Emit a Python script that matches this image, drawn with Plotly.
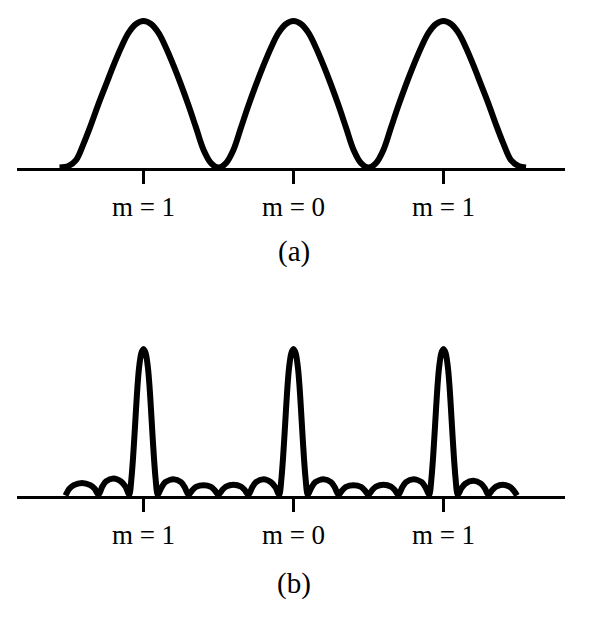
import plotly.graph_objects as go

# ---- data (x in units of fringe order, y relative to peak height) ----
tick_positions = [-1, 0, 1]
tick_labels = ["m = 1", "m = 0", "m = 1"]
panel_captions = ["(a)", "(b)"]

# (a) two-slit pattern
a_x = [-1.56, -1.50, -1.45, -1.40, -1.35, -1.30, -1.25, -1.20, -1.15, -1.10, -1.05, -1.00,
       -0.95, -0.90, -0.85, -0.80, -0.75, -0.70, -0.65, -0.60, -0.55, -0.50,
       -0.45, -0.40, -0.35, -0.30, -0.25, -0.20, -0.15, -0.10, -0.05, 0.00,
       0.05, 0.10, 0.15, 0.20, 0.25, 0.30, 0.35, 0.40, 0.45, 0.50,
       0.55, 0.60, 0.65, 0.70, 0.75, 0.80, 0.85, 0.90, 0.95, 1.00,
       1.05, 1.10, 1.15, 1.20, 1.25, 1.30, 1.35, 1.40, 1.45, 1.50, 1.55]
a_y = [0.01, 0.02, 0.06, 0.17, 0.30, 0.44, 0.57, 0.70, 0.82, 0.92, 0.98, 1.00,
       0.98, 0.92, 0.82, 0.70, 0.57, 0.43, 0.28, 0.13, 0.04, 0.01,
       0.04, 0.13, 0.28, 0.43, 0.57, 0.70, 0.82, 0.92, 0.98, 1.00,
       0.98, 0.92, 0.82, 0.70, 0.57, 0.43, 0.28, 0.13, 0.04, 0.01,
       0.04, 0.13, 0.28, 0.43, 0.57, 0.70, 0.82, 0.92, 0.98, 1.00,
       0.98, 0.92, 0.82, 0.70, 0.57, 0.44, 0.30, 0.17, 0.06, 0.02, 0.01]

# (b) multi-slit pattern
b_x = [-1.52, -1.495, -1.465, -1.41, -1.355, -1.325, -1.30,
       -1.275, -1.25, -1.20, -1.15, -1.12, -1.095,
       -1.08, -1.07, -1.06, -1.05, -1.04, -1.03, -1.015, -1.00,
       -0.985, -0.97, -0.96, -0.95, -0.94, -0.93, -0.92, -0.905,
       -0.88, -0.855, -0.80, -0.75, -0.725, -0.70,
       -0.675, -0.65, -0.60, -0.55, -0.525, -0.50,
       -0.475, -0.45, -0.40, -0.35, -0.325, -0.30,
       -0.275, -0.25, -0.20, -0.15, -0.12, -0.095,
       -0.08, -0.07, -0.06, -0.05, -0.04, -0.03, -0.015, 0.00,
       0.015, 0.03, 0.04, 0.05, 0.06, 0.07, 0.08, 0.095,
       0.12, 0.145, 0.20, 0.25, 0.275, 0.30,
       0.325, 0.35, 0.40, 0.45, 0.475, 0.50,
       0.525, 0.55, 0.60, 0.65, 0.675, 0.70,
       0.725, 0.75, 0.80, 0.855, 0.88, 0.905,
       0.92, 0.93, 0.94, 0.95, 0.96, 0.97, 0.985, 1.00,
       1.015, 1.03, 1.04, 1.05, 1.06, 1.07, 1.08, 1.095,
       1.12, 1.145, 1.20, 1.25, 1.275, 1.30,
       1.325, 1.35, 1.395, 1.44, 1.465, 1.49]
b_y = [0.01, 0.055, 0.08, 0.095, 0.08, 0.055, 0.015,
       0.07, 0.105, 0.125, 0.105, 0.07, 0.015,
       0.13, 0.26, 0.42, 0.59, 0.75, 0.87, 0.97, 1.00,
       0.97, 0.87, 0.75, 0.59, 0.42, 0.26, 0.13, 0.015,
       0.065, 0.10, 0.12, 0.10, 0.065, 0.015,
       0.045, 0.068, 0.08, 0.068, 0.045, 0.015,
       0.047, 0.07, 0.083, 0.07, 0.047, 0.015,
       0.065, 0.10, 0.12, 0.10, 0.065, 0.015,
       0.13, 0.26, 0.42, 0.59, 0.75, 0.87, 0.97, 1.00,
       0.97, 0.87, 0.75, 0.59, 0.42, 0.26, 0.13, 0.015,
       0.065, 0.10, 0.12, 0.10, 0.065, 0.015,
       0.045, 0.068, 0.08, 0.068, 0.045, 0.015,
       0.047, 0.07, 0.083, 0.07, 0.047, 0.015,
       0.065, 0.10, 0.12, 0.10, 0.065, 0.015,
       0.13, 0.26, 0.42, 0.59, 0.75, 0.87, 0.97, 1.00,
       0.97, 0.87, 0.75, 0.59, 0.42, 0.26, 0.13, 0.015,
       0.06, 0.09, 0.11, 0.09, 0.06, 0.015,
       0.047, 0.07, 0.083, 0.07, 0.047, 0.01]

# ---- layout geometry (pixels in a 600 x 623 page) ----
W, H = 600, 623
X_LEFT_PX, X_RIGHT_PX = 17, 565
X0_PX, PX_PER_UNIT = 293.5, 150.0
Y_PX_PER_UNIT = 148.0
x_range = [(X_LEFT_PX - X0_PX) / PX_PER_UNIT, (X_RIGHT_PX - X0_PX) / PX_PER_UNIT]
x_domain = [X_LEFT_PX / W, X_RIGHT_PX / W]

panels = [  # (top px, bottom px, baseline px, caption centre px)
    (5, 185, 169, 251),
    (330, 515, 497, 583),
]

SERIF = "Liberation Serif, Times New Roman, serif"
fig = go.Figure()

fig.add_trace(go.Scatter(x=a_x, y=a_y, mode="lines", xaxis="x", yaxis="y",
                         line=dict(color="black", width=6, shape="spline", smoothing=1.0),
                         hoverinfo="skip"))
fig.add_trace(go.Scatter(x=b_x, y=b_y, mode="lines", xaxis="x2", yaxis="y2",
                         line=dict(color="black", width=6, shape="spline", smoothing=0.8),
                         hoverinfo="skip"))

layout = dict(width=W, height=H, autosize=False, showlegend=False,
              margin=dict(l=0, r=0, t=0, b=0),
              paper_bgcolor="white", plot_bgcolor="white")

annotations = []
for i, (top, bot, base, cap) in enumerate(panels):
    n = "" if i == 0 else str(i + 1)
    ov = str(i + 3)
    y_top = (base - top) / Y_PX_PER_UNIT
    y_bot = (base - bot) / Y_PX_PER_UNIT
    pos = 1 - base / H
    layout["yaxis" + n] = dict(domain=[1 - bot / H, 1 - top / H], range=[y_bot, y_top],
                               visible=False, fixedrange=True)
    layout["xaxis" + n] = dict(domain=x_domain, range=x_range, anchor="free", position=pos,
                               showline=True, linecolor="black", linewidth=2.5,
                               ticks="outside", ticklen=13, tickwidth=2.5, tickcolor="black",
                               tickvals=tick_positions, ticktext=tick_labels,
                               tickfont=dict(family=SERIF, size=27, color="black"),
                               showgrid=False, zeroline=False, fixedrange=True)
    layout["xaxis" + ov] = dict(domain=x_domain, range=x_range, anchor="free", position=pos,
                                overlaying="x" + n, showline=False,
                                ticks="inside", ticklen=11, tickwidth=2.5, tickcolor="black",
                                tickvals=tick_positions, showticklabels=False,
                                showgrid=False, zeroline=False, fixedrange=True)
    annotations.append(dict(text=panel_captions[i], xref="paper", yref="paper",
                            x=X0_PX / W, y=1 - cap / H, xanchor="center", yanchor="middle",
                            showarrow=False, font=dict(family=SERIF, size=29, color="black")))

layout["annotations"] = annotations
fig.update_layout(**layout)

fig.write_html("out.html", config={"displayModeBar": False},
               post_script="document.body.style.margin='0';document.body.style.padding='0';")
